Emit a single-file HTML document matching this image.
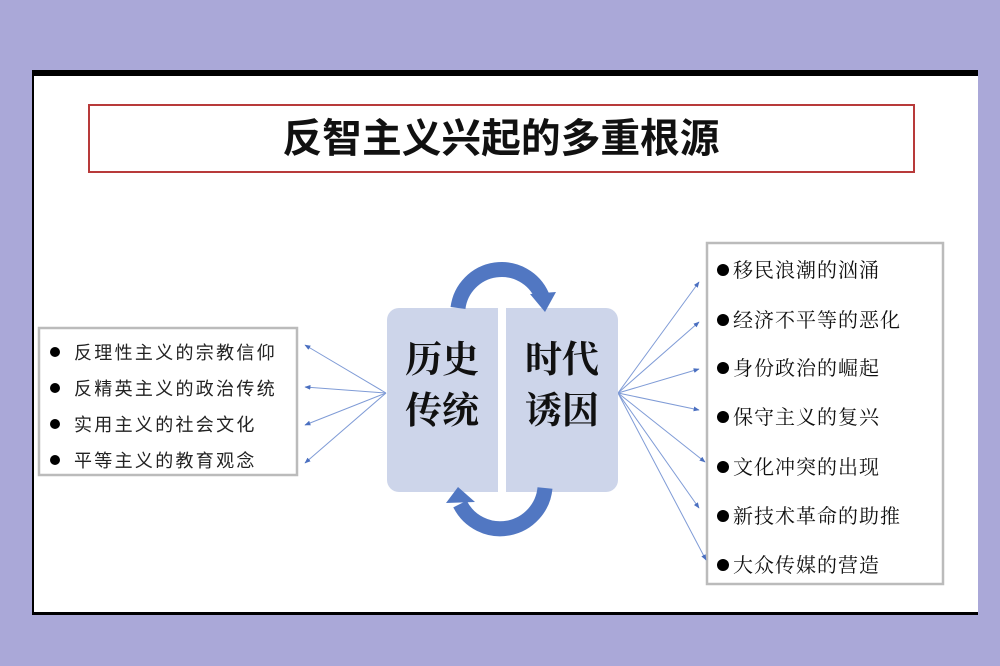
<!DOCTYPE html>
<html><head><meta charset="utf-8"><style>
html,body{margin:0;padding:0;width:1000px;height:666px;overflow:hidden;background:#aaa8d8}
svg{display:block}
</style></head><body>
<svg width="1000" height="666" viewBox="0 0 1000 666" xmlns="http://www.w3.org/2000/svg">
<defs>
<marker id="ah" viewBox="0 0 10 10" refX="9" refY="5" markerWidth="6" markerHeight="6" orient="auto"><path d="M0,1 L10,5 L0,9 z" fill="#4a6fc0"/></marker>
</defs>
<rect x="32" y="70" width="946" height="545" fill="#fff"/>
<rect x="32" y="70" width="946" height="6" fill="#000"/>
<rect x="32" y="70" width="2" height="545" fill="#000"/>
<rect x="32" y="612" width="946" height="3" fill="#000"/>
<rect x="89" y="105" width="825" height="67" fill="#fff" stroke="#b83a3a" stroke-width="2"/>
<text x="501" y="152" text-anchor="middle" font-family="'Liberation Sans','Noto Sans CJK SC',sans-serif" font-size="40" font-weight="bold" fill="#111" textLength="437" lengthAdjust="spacingAndGlyphs">反智主义兴起的多重根源</text>

<rect x="39" y="328" width="258" height="147" fill="#fff" stroke="#bbb" stroke-width="2.5"/>
<g font-family="'Liberation Sans','Noto Sans CJK SC',sans-serif" font-size="18" fill="#222" letter-spacing="2.3">
<circle cx="55" cy="352" r="5" fill="#000"/><text x="74" y="359">反理性主义的宗教信仰</text>
<circle cx="55" cy="388" r="5" fill="#000"/><text x="74" y="395">反精英主义的政治传统</text>
<circle cx="55" cy="424" r="5" fill="#000"/><text x="74" y="431">实用主义的社会文化</text>
<circle cx="55" cy="460" r="5" fill="#000"/><text x="74" y="467">平等主义的教育观念</text>
</g>

<rect x="707" y="243" width="236" height="341" fill="#fff" stroke="#bbb" stroke-width="2.5"/>
<g font-family="'Liberation Serif','Noto Serif CJK SC',serif" font-size="20" fill="#111" letter-spacing="1">
<circle cx="723" cy="270" r="6" fill="#000"/><text x="733" y="277">移民浪潮的汹涌</text>
<circle cx="723" cy="320" r="6" fill="#000"/><text x="733" y="327">经济不平等的恶化</text>
<circle cx="723" cy="368" r="6" fill="#000"/><text x="733" y="375">身份政治的崛起</text>
<circle cx="723" cy="417" r="6" fill="#000"/><text x="733" y="424">保守主义的复兴</text>
<circle cx="723" cy="467" r="6" fill="#000"/><text x="733" y="474">文化冲突的出现</text>
<circle cx="723" cy="516" r="6" fill="#000"/><text x="733" y="523">新技术革命的助推</text>
<circle cx="723" cy="565" r="6" fill="#000"/><text x="733" y="572">大众传媒的营造</text>
</g>

<g stroke="#7f9bd6" stroke-width="1" fill="none" marker-end="url(#ah)">
<line x1="386" y1="393" x2="305" y2="345"/>
<line x1="386" y1="393" x2="305" y2="387"/>
<line x1="386" y1="393" x2="305" y2="425"/>
<line x1="386" y1="393" x2="305" y2="463"/>
<line x1="618" y1="393" x2="699" y2="282"/>
<line x1="618" y1="393" x2="699" y2="322"/>
<line x1="618" y1="393" x2="699" y2="369"/>
<line x1="618" y1="393" x2="699" y2="410"/>
<line x1="618" y1="393" x2="705" y2="462"/>
<line x1="618" y1="393" x2="699" y2="508"/>
<line x1="618" y1="393" x2="706" y2="560"/>
</g>

<path d="M387,320 a12,12 0 0 1 12,-12 H498 V492 H399 a12,12 0 0 1 -12,-12 z" fill="#cdd5ea"/>
<path d="M506,308 H606 a12,12 0 0 1 12,12 V480 a12,12 0 0 1 -12,12 H506 z" fill="#cdd5ea"/>
<g font-family="'Liberation Serif','Noto Serif CJK SC',serif" font-size="37" font-weight="bold" fill="#111">
<text x="442" y="372" text-anchor="middle">历史</text>
<text x="442" y="423" text-anchor="middle">传统</text>
<text x="562" y="372" text-anchor="middle">时代</text>
<text x="562" y="423" text-anchor="middle">诱因</text>
</g>

<path d="M458,308 A44,44 0 0 1 542,296" fill="none" stroke="#5177c2" stroke-width="15"/>
<path d="M530,294 L556,292 L545,312 z" fill="#5177c2"/>
<path d="M545,488 A45,45 0 0 1 460,504" fill="none" stroke="#5177c2" stroke-width="15"/>
<path d="M446,503 L458,487 L475,502 z" fill="#5177c2"/>
</svg>
</body></html>
